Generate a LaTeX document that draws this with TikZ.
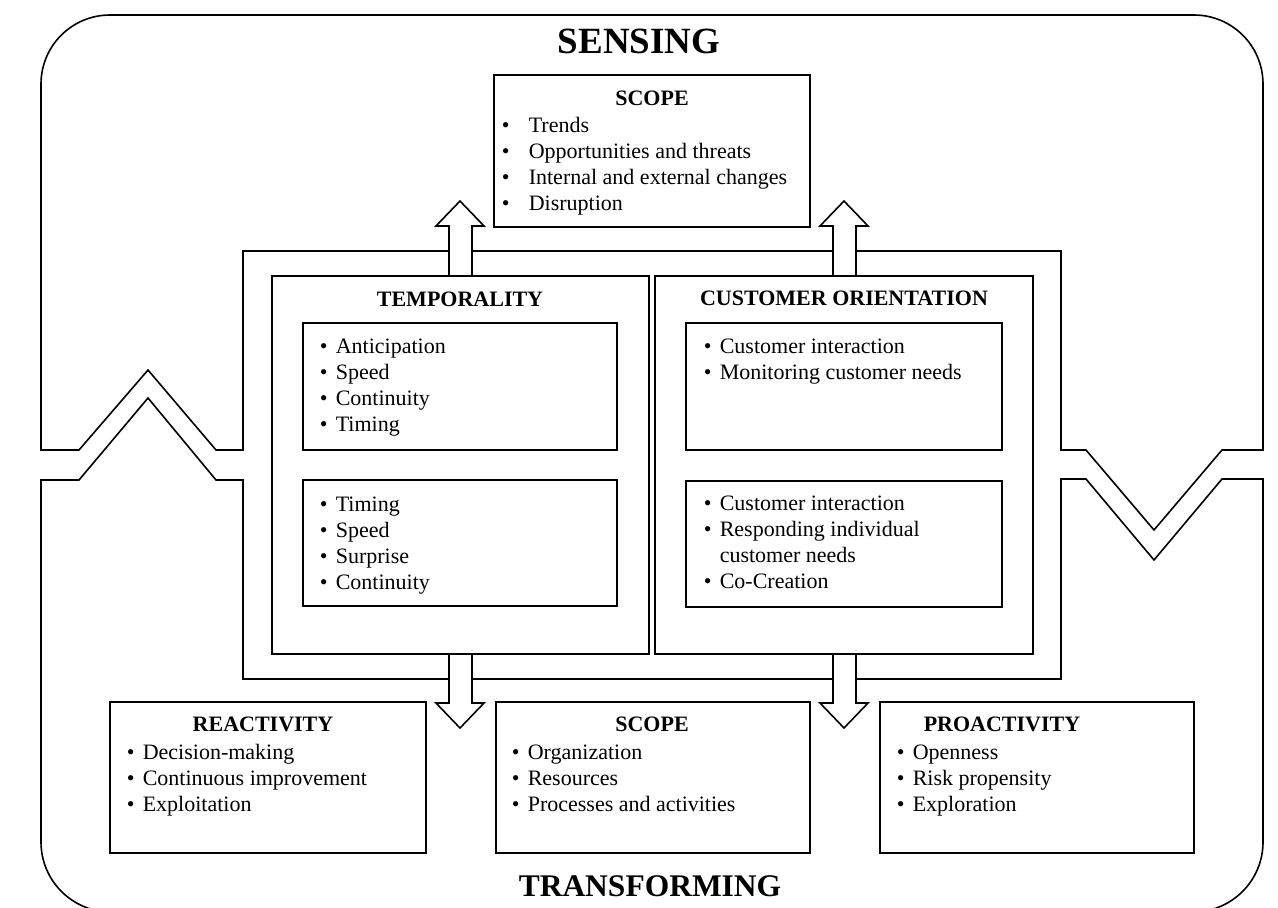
\documentclass[tikz,border=0pt]{standalone}
\usepackage{fontspec}
\setmainfont{Liberation Serif}
\newcommand\bitem[2][16pt]{\hangindent=#1\hangafter=1\noindent\makebox[#1][l]{\textbullet}#2\par}
\newcommand\blist[1]{\parbox[t]{300pt}{\raggedright\parindent=0pt #1}}
\begin{document}
\begin{tikzpicture}[x=1pt,y=-1pt,line width=1.6pt,line join=miter,
  box/.style={draw,rectangle,inner sep=0pt,outer sep=0pt,anchor=north west},
  hd/.style={font=\bfseries\fontsize{22}{26}\selectfont,anchor=base,inner sep=0pt},
  lst/.style={anchor=base west,inner sep=0pt,font=\fontsize{22}{26}\selectfont},
  big/.style={font=\bfseries\fontsize{37}{42}\selectfont,anchor=base,inner sep=0pt},
  blockarrow/.style={draw,fill=white}]
\useasboundingbox (0,0) rectangle (1278,908);
\clip (0,0) rectangle (1278,908);
% upper (sensing) region
\draw (243,450) -- (243,251) -- (1061,251) -- (1061,450) -- (1086,450) -- (1154,530) -- (1222,450) -- (1263,450)
  -- (1263,84) arc[start angle=0,end angle=90,radius=69pt] -- (110,15) arc[start angle=90,end angle=180,radius=69pt]
  -- (41,450) -- (79,450) -- (148,370) -- (216,450) -- cycle;
% lower (transforming) region
\draw (243,480) -- (216,480) -- (148,398) -- (79,480) -- (41,480) -- (41,842)
  arc[start angle=180,end angle=270,radius=70pt] -- (1193,912) arc[start angle=270,end angle=360,radius=70pt]
  -- (1263,479) -- (1222,479) -- (1154,560) -- (1086,479) -- (1061,479) -- (1061,679) -- (243,679) -- cycle;
% block arrows
\draw[blockarrow] (449,276) -- (449,226) -- (436,226) -- (460,201) -- (484,226) -- (472,226) -- (472,276);
\draw[blockarrow] (833,276) -- (833,226) -- (820,226) -- (844,201) -- (868,226) -- (856,226) -- (856,276);
\draw[blockarrow] (449,654) -- (449,703) -- (436,703) -- (460,728) -- (484,703) -- (472,703) -- (472,654);
\draw[blockarrow] (833,654) -- (833,703) -- (820,703) -- (844,728) -- (868,703) -- (856,703) -- (856,654);
% boxes
\node[box,minimum width=316pt,minimum height=152pt] (scopeT) at (494,75) {};
\node[box,minimum width=377pt,minimum height=378pt] (temp) at (272,276) {};
\node[box,minimum width=378pt,minimum height=378pt] (cust) at (655,276) {};
\node[box,minimum width=314pt,minimum height=127pt] (tempA) at (303,323) {};
\node[box,minimum width=314pt,minimum height=126pt] (tempB) at (303,480) {};
\node[box,minimum width=316pt,minimum height=127pt] (custA) at (686,323) {};
\node[box,minimum width=316pt,minimum height=126pt] (custB) at (686,481) {};
\node[box,minimum width=316pt,minimum height=151pt] (react) at (110,702) {};
\node[box,minimum width=314pt,minimum height=151pt] (scopeB) at (496,702) {};
\node[box,minimum width=314pt,minimum height=151pt] (proact) at (880,702) {};
% titles
\node[big] (sensing) at (639,53) {SENSING};
\node[big,font=\bfseries\fontsize{31.5}{38}\selectfont] (transforming) at (650,896) {TRANSFORMING};
% headings
\node[hd] (scopeTh) at (652,105) {SCOPE};
\node[hd] (temph) at (460,306) {TEMPORALITY};
\node[hd] (custh) at (844,305) {CUSTOMER ORIENTATION};
\node[hd] (reacth) at (263,731) {REACTIVITY};
\node[hd] (scopeBh) at (652,731) {SCOPE};
\node[hd] (proacth) at (1002,731) {PROACTIVITY};
% lists
\node[lst] (scopeTl) at (501,132) {\blist{\bitem[27pt]{Trends}\bitem[27pt]{Opportunities and threats}\bitem[27pt]{Internal and external changes}\bitem[27pt]{Disruption}}};
\node[lst] (tempAl) at (319,353) {\blist{\bitem{Anticipation}\bitem{Speed}\bitem{Continuity}\bitem{Timing}}};
\node[lst] (tempBl) at (319,511) {\blist{\bitem{Timing}\bitem{Speed}\bitem{Surprise}\bitem{Continuity}}};
\node[lst] (custAl) at (703,353) {\blist{\bitem{Customer interaction}\bitem{Monitoring customer needs}}};
\node[lst] (custBl) at (703,510) {\blist{\bitem{Customer interaction}\bitem{Responding individual\newline customer needs}\bitem{Co-Creation}}};
\node[lst] (reactl) at (126,759) {\blist{\bitem{Decision-making}\bitem{Continuous improvement}\bitem{Exploitation}}};
\node[lst] (scopeBl) at (511,759) {\blist{\bitem{Organization}\bitem{Resources}\bitem{Processes and activities}}};
\node[lst] (proactl) at (896,759) {\blist{\bitem{Openness}\bitem{Risk propensity}\bitem{Exploration}}};
\end{tikzpicture}
\end{document}
